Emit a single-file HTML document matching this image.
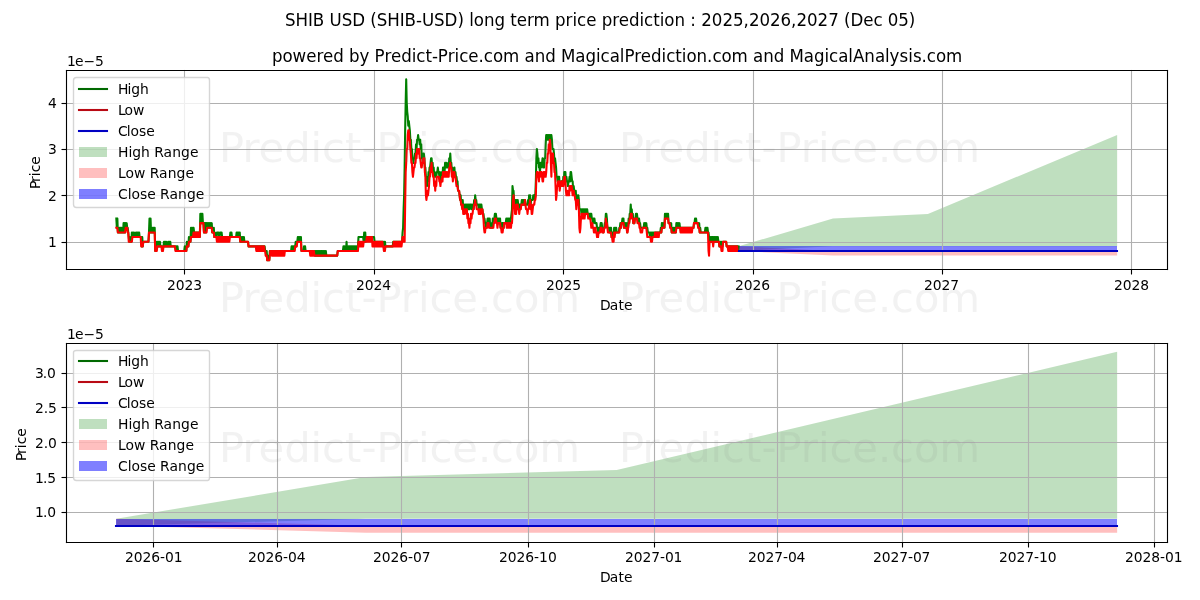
<!DOCTYPE html>
<html lang="en"><head><meta charset="utf-8"><title>SHIB USD (SHIB-USD) long term price prediction</title>
<style>
html,body{margin:0;padding:0;background:#fff}
body{width:1200px;height:600px;overflow:hidden}
svg{display:block;will-change:transform;fill:#000;stroke-linejoin:round;stroke-linecap:butt}
svg text{font-family:"DejaVu Sans","Liberation Sans",sans-serif;white-space:pre}
</style></head><body>
<svg width="1200" height="600" viewBox="0 0 1200 600">
<path d="M0 600L1200 600L1200 0L0 0Z" fill="#ffffff"/>
<path d="M66 269L1167 269L1167 70L66 70Z" fill="#ffffff"/>
<path d="M738.6 246.35L738.6 250.99L832.98 246.35L927.87 246.35L1117.15 246.35L1117.15 135.03L927.87 213.88L832.98 218.52L738.6 246.35Z" fill="#008000" fill-opacity="0.25"/>
<path d="M738.6 246.35L738.6 250.99L832.98 255.62L927.87 255.62L1117.15 255.62L1117.15 250.99L927.87 250.99L832.98 250.99L738.6 246.35Z" fill="#ff0000" fill-opacity="0.25"/>
<path d="M739 246L739 251L833 251L928 251L1117 251L1117 246L928 246L833 246L739 246Z" fill="#0000ff" fill-opacity="0.5"/>
<path d="M184.5 269.5L184.5 70.5" fill="none" stroke="#b0b0b0" stroke-width="1.11" stroke-linecap="square"/>
<path d="M184.5 269.5L184.5 274.5" fill="#000000" stroke="#000000" stroke-width="1.11"/>
<text x="167 175.75 184.5 193.25" y="290" font-size="13.89">2023</text>
<path d="M374.5 269.5L374.5 70.5" fill="none" stroke="#b0b0b0" stroke-width="1.11" stroke-linecap="square"/>
<path d="M374.5 269.5L374.5 274.5" fill="#000000" stroke="#000000" stroke-width="1.11"/>
<text x="356 364.75 373.5 382.25" y="290" font-size="13.89">2024</text>
<path d="M563.5 269.5L563.5 70.5" fill="none" stroke="#b0b0b0" stroke-width="1.11" stroke-linecap="square"/>
<path d="M563.5 269.5L563.5 274.5" fill="#000000" stroke="#000000" stroke-width="1.11"/>
<text x="546 554.75 563.5 572.25" y="290" font-size="13.89">2025</text>
<path d="M753.5 269.5L753.5 70.5" fill="none" stroke="#b0b0b0" stroke-width="1.11" stroke-linecap="square"/>
<path d="M753.5 269.5L753.5 274.5" fill="#000000" stroke="#000000" stroke-width="1.11"/>
<text x="735 743.75 752.5 761.25" y="290" font-size="13.89">2026</text>
<path d="M942.5 269.5L942.5 70.5" fill="none" stroke="#b0b0b0" stroke-width="1.11" stroke-linecap="square"/>
<path d="M942.5 269.5L942.5 274.5" fill="#000000" stroke="#000000" stroke-width="1.11"/>
<text x="924 932.75 941.5 950.25" y="290" font-size="13.89">2027</text>
<path d="M1131.5 269.5L1131.5 70.5" fill="none" stroke="#b0b0b0" stroke-width="1.11" stroke-linecap="square"/>
<path d="M1131.5 269.5L1131.5 274.5" fill="#000000" stroke="#000000" stroke-width="1.11"/>
<text x="1114 1122.75 1131.5 1140.25" y="290" font-size="13.89">2028</text>
<text x="600 609.75 618.38 623.88" y="310" font-size="13.89">Date</text>
<path d="M66.5 242.5L1167.5 242.5" fill="none" stroke="#b0b0b0" stroke-width="1.11" stroke-linecap="square"/>
<path d="M66.5 242.5L61.5 242.5" fill="#000000" stroke="#000000" stroke-width="1.11"/>
<text x="48" y="247" font-size="13.89">1</text>
<path d="M66.5 195.5L1167.5 195.5" fill="none" stroke="#b0b0b0" stroke-width="1.11" stroke-linecap="square"/>
<path d="M66.5 195.5L61.5 195.5" fill="#000000" stroke="#000000" stroke-width="1.11"/>
<text x="48" y="201" font-size="13.89">2</text>
<path d="M66.5 149.5L1167.5 149.5" fill="none" stroke="#b0b0b0" stroke-width="1.11" stroke-linecap="square"/>
<path d="M66.5 149.5L61.5 149.5" fill="#000000" stroke="#000000" stroke-width="1.11"/>
<text x="48" y="154" font-size="13.89">3</text>
<path d="M66.5 103.5L1167.5 103.5" fill="none" stroke="#b0b0b0" stroke-width="1.11" stroke-linecap="square"/>
<path d="M66.5 103.5L61.5 103.5" fill="#000000" stroke="#000000" stroke-width="1.11"/>
<text x="48" y="108" font-size="13.89">4</text>
<text x="39 46.12 51.88 55.75 63.38" y="188" font-size="13.89" transform="rotate(-90 40 188)">Price</text>
<text x="67 74.88 83.38 95" y="66" font-size="13.89">1e−5</text>
<path d="M116.32 218.52L116.84 227.8L117.36 218.52L117.87 232.43L118.39 227.8L118.91 232.43L119.43 227.8L119.95 232.43L120.47 227.8L120.99 232.43L121.5 227.8L122.02 232.43L122.54 227.8L123.06 232.43L123.58 223.16L124.1 232.43L124.62 223.16L125.13 232.43L125.65 223.16L126.17 227.8L126.69 223.16L127.21 227.8L127.73 227.8L128.25 232.43L128.76 237.07L129.28 241.71L129.8 237.07L130.32 241.71L130.84 237.07L131.36 241.71L131.88 232.43L132.39 237.07L132.91 232.43L133.43 237.07L133.95 232.43L134.47 237.07L134.99 237.07L135.51 237.07L136.02 232.43L136.54 237.07L137.06 232.43L137.58 237.07L138.1 232.43L138.62 237.07L139.14 232.43L139.65 237.07L140.17 237.07L140.69 237.07L141.21 237.07L141.73 246.35L142.25 237.07L142.77 246.35L143.28 241.71L143.8 241.71L144.32 241.71L144.84 241.71L145.36 241.71L145.88 241.71L146.4 241.71L146.91 241.71L147.43 241.71L147.95 241.71L148.47 241.71L148.99 232.43L149.51 218.52L150.03 232.43L150.54 218.52L151.06 232.43L151.58 227.8L152.1 232.43L152.62 227.8L153.14 232.43L153.66 227.8L154.17 232.43L154.69 227.8L155.21 250.99L155.73 241.71L156.25 250.99L156.77 241.71L157.29 246.35L157.8 241.71L158.32 246.35L158.84 241.71L159.36 246.35L159.88 241.71L160.4 246.35L160.92 246.35L161.43 246.35L161.95 246.35L162.47 250.99L162.99 246.35L163.51 246.35L164.03 241.71L164.55 246.35L165.06 241.71L165.58 246.35L166.1 241.71L166.62 246.35L167.14 246.35L167.66 246.35L168.18 241.71L168.69 246.35L169.21 241.71L169.73 246.35L170.25 241.71L170.77 246.35L171.29 246.35L171.81 246.35L172.32 246.35L172.84 246.35L173.36 246.35L173.88 246.35L174.4 246.35L174.92 246.35L175.44 246.35L175.95 250.99L176.47 246.35L176.99 250.99L177.51 246.35L178.03 250.99L178.55 250.99L179.07 250.99L179.58 250.99L180.1 250.99L180.62 250.99L181.14 250.99L181.66 250.99L182.18 250.99L182.7 250.99L183.21 250.99L183.73 250.99L184.25 250.99L184.77 246.35L185.29 250.99L185.81 246.35L186.33 250.99L186.84 241.71L187.36 246.35L187.88 241.71L188.4 246.35L188.92 237.07L189.44 241.71L189.96 237.07L190.47 241.71L190.99 227.8L191.51 237.07L192.03 227.8L192.55 237.07L193.07 227.8L193.59 227.8L194.1 232.43L194.62 232.43L195.14 232.43L195.66 232.43L196.18 232.43L196.7 232.43L197.22 232.43L197.73 232.43L198.25 232.43L198.77 232.43L199.29 232.43L199.81 237.07L200.33 213.88L200.85 223.16L201.36 213.88L201.88 223.16L202.4 213.88L202.92 223.16L203.44 223.16L203.96 232.43L204.48 223.16L204.99 232.43L205.51 223.16L206.03 232.43L206.55 223.16L207.07 227.8L207.59 223.16L208.11 227.8L208.62 223.16L209.14 227.8L209.66 223.16L210.18 227.8L210.7 223.16L211.22 227.8L211.74 223.16L212.25 232.43L212.77 227.8L213.29 232.43L213.81 227.8L214.33 237.07L214.85 232.43L215.37 237.07L215.88 237.07L216.4 237.07L216.92 232.43L217.44 232.43L217.96 232.43L218.48 232.43L218.99 237.07L219.51 237.07L220.03 232.43L220.55 232.43L221.07 232.43L221.59 232.43L222.11 237.07L222.62 237.07L223.14 237.07L223.66 237.07L224.18 237.07L224.7 237.07L225.22 237.07L225.74 237.07L226.25 237.07L226.77 237.07L227.29 237.07L227.81 237.07L228.33 237.07L228.85 237.07L229.37 237.07L229.88 237.07L230.4 232.43L230.92 237.07L231.44 232.43L231.96 237.07L232.48 237.07L233 237.07L233.51 237.07L234.03 237.07L234.55 237.07L235.07 237.07L235.59 237.07L236.11 237.07L236.63 232.43L237.14 237.07L237.66 232.43L238.18 237.07L238.7 232.43L239.22 237.07L239.74 232.43L240.26 241.71L240.77 237.07L241.29 241.71L241.81 237.07L242.33 241.71L242.85 237.07L243.37 241.71L243.89 237.07L244.4 241.71L244.92 241.71L245.44 241.71L245.96 241.71L246.48 241.71L247 241.71L247.52 241.71L248.03 241.71L248.55 246.35L249.07 246.35L249.59 246.35L250.11 246.35L250.63 246.35L251.15 246.35L251.66 246.35L252.18 246.35L252.7 246.35L253.22 246.35L253.74 246.35L254.26 246.35L254.78 246.35L255.29 246.35L255.81 246.35L256.33 246.35L256.85 246.35L257.37 246.35L257.89 246.35L258.41 246.35L258.92 246.35L259.44 246.35L259.96 246.35L260.48 246.35L261 246.35L261.52 246.35L262.04 246.35L262.55 246.35L263.07 246.35L263.59 246.35L264.11 246.35L264.63 246.35L265.15 250.99L265.67 250.99L266.18 255.62L266.7 250.99L267.22 260.26L267.74 255.62L268.26 260.26L268.78 255.62L269.3 260.26L269.81 250.99L270.33 250.99L270.85 250.99L271.37 250.99L271.89 250.99L272.41 250.99L272.93 250.99L273.44 250.99L273.96 250.99L274.48 250.99L275 250.99L275.52 250.99L276.04 250.99L276.56 250.99L277.07 250.99L277.59 250.99L278.11 250.99L278.63 250.99L279.15 250.99L279.67 250.99L280.19 250.99L280.7 250.99L281.22 250.99L281.74 250.99L282.26 250.99L282.78 250.99L283.3 250.99L283.82 250.99L284.33 250.99L284.85 250.99L285.37 250.99L285.89 250.99L286.41 250.99L286.93 250.99L287.45 250.99L287.96 250.99L288.48 250.99L289 250.99L289.52 250.99L290.04 250.99L290.56 250.99L291.08 250.99L291.59 246.35L292.11 250.99L292.63 246.35L293.15 250.99L293.67 246.35L294.19 250.99L294.71 246.35L295.22 246.35L295.74 241.71L296.26 246.35L296.78 241.71L297.3 241.71L297.82 237.07L298.34 241.71L298.85 237.07L299.37 241.71L299.89 237.07L300.41 241.71L300.93 237.07L301.45 250.99L301.97 250.99L302.48 250.99L303 250.99L303.52 250.99L304.04 246.35L304.56 250.99L305.08 246.35L305.6 250.99L306.11 250.99L306.63 250.99L307.15 250.99L307.67 250.99L308.19 250.99L308.71 250.99L309.23 250.99L309.74 250.99L310.26 250.99L310.78 250.99L311.3 250.99L311.82 250.99L312.34 250.99L312.86 250.99L313.37 250.99L313.89 250.99L314.41 250.99L314.93 255.62L315.45 250.99L315.97 255.62L316.49 250.99L317 255.62L317.52 250.99L318.04 255.62L318.56 250.99L319.08 255.62L319.6 250.99L320.12 255.62L320.63 250.99L321.15 255.62L321.67 250.99L322.19 255.62L322.71 250.99L323.23 255.62L323.75 250.99L324.26 255.62L324.78 250.99L325.3 255.62L325.82 250.99L326.34 255.62L326.86 255.62L327.37 255.62L327.89 255.62L328.41 255.62L328.93 255.62L329.45 255.62L329.97 255.62L330.49 255.62L331 255.62L331.52 255.62L332.04 255.62L332.56 255.62L333.08 255.62L333.6 255.62L334.12 255.62L334.63 255.62L335.15 255.62L335.67 255.62L336.19 255.62L336.71 255.62L337.23 255.62L337.75 250.99L338.26 250.99L338.78 250.99L339.3 250.99L339.82 250.99L340.34 250.99L340.86 250.99L341.38 250.99L341.89 250.99L342.41 250.99L342.93 250.99L343.45 246.35L343.97 250.99L344.49 246.35L345.01 250.99L345.52 246.35L346.04 250.99L346.56 241.71L347.08 250.99L347.6 246.35L348.12 250.99L348.64 246.35L349.15 250.99L349.67 246.35L350.19 250.99L350.71 246.35L351.23 250.99L351.75 246.35L352.27 250.99L352.78 246.35L353.3 250.99L353.82 246.35L354.34 250.99L354.86 246.35L355.38 250.99L355.9 246.35L356.41 250.99L356.93 246.35L357.45 250.99L357.97 246.35L358.49 237.07L359.01 237.07L359.53 237.07L360.04 237.07L360.56 237.07L361.08 237.07L361.6 237.07L362.12 237.07L362.64 237.07L363.16 237.07L363.67 241.71L364.19 232.43L364.71 241.71L365.23 232.43L365.75 241.71L366.27 237.07L366.79 237.07L367.3 237.07L367.82 237.07L368.34 237.07L368.86 237.07L369.38 237.07L369.9 237.07L370.42 237.07L370.93 237.07L371.45 237.07L371.97 237.07L372.49 237.07L373.01 237.07L373.53 237.07L374.05 237.07L374.56 241.71L375.08 241.71L375.6 241.71L376.12 241.71L376.64 241.71L377.16 241.71L377.68 241.71L378.19 241.71L378.71 241.71L379.23 241.71L379.75 241.71L380.27 241.71L380.79 241.71L381.31 241.71L381.82 241.71L382.34 241.71L382.86 241.71L383.38 246.35L383.9 241.71L384.42 250.99L384.94 241.71L385.45 246.35L385.97 246.35L386.49 246.35L387.01 246.35L387.53 246.35L388.05 246.35L388.57 246.35L389.08 246.35L389.6 246.35L390.12 246.35L390.64 246.35L391.16 246.35L391.68 246.35L392.2 246.35L392.71 246.35L393.23 241.71L393.75 241.71L394.27 241.71L394.79 241.71L395.31 241.71L395.83 241.71L396.34 241.71L396.86 241.71L397.38 241.71L397.9 241.71L398.42 241.71L398.94 241.71L399.46 241.71L399.97 241.71L400.49 241.71L401.01 241.71L401.53 241.71L402.05 241.71L402.57 232.43L403.09 227.8L403.6 209.24L404.12 195.33L404.64 167.5L405.16 130.4L405.68 102.57L406.2 79.38L406.72 102.57L407.23 111.84L407.75 116.48L408.27 125.76L408.79 121.12L409.31 125.76L409.83 130.4L410.35 139.67L410.86 139.67L411.38 148.95L411.9 148.95L412.42 158.22L412.94 158.22L413.46 162.86L413.98 158.22L414.49 158.22L415.01 153.59L415.53 153.59L416.05 144.31L416.57 148.95L417.09 139.67L417.61 139.67L418.12 135.03L418.64 139.67L419.16 139.67L419.68 144.31L420.2 139.67L420.72 148.95L421.24 144.31L421.75 158.22L422.27 158.22L422.79 162.86L423.31 153.59L423.83 153.59L424.35 158.22L424.87 167.5L425.38 167.5L425.9 176.78L426.42 176.78L426.94 186.05L427.46 181.41L427.98 181.41L428.5 172.14L429.01 176.78L429.53 167.5L430.05 167.5L430.57 162.86L431.09 158.22L431.61 158.22L432.12 167.5L432.64 162.86L433.16 172.14L433.68 167.5L434.2 176.78L434.72 172.14L435.24 176.78L435.75 176.78L436.27 176.78L436.79 172.14L437.31 172.14L437.83 167.5L438.35 172.14L438.87 172.14L439.38 176.78L439.9 172.14L440.42 181.41L440.94 176.78L441.46 181.41L441.98 172.14L442.5 176.78L443.01 167.5L443.53 167.5L444.05 167.5L444.57 172.14L445.09 162.86L445.61 167.5L446.13 162.86L446.64 167.5L447.16 167.5L447.68 167.5L448.2 162.86L448.72 167.5L449.24 158.22L449.76 162.86L450.27 153.59L450.79 162.86L451.31 162.86L451.83 172.14L452.35 167.5L452.87 172.14L453.39 172.14L453.9 172.14L454.42 167.5L454.94 176.78L455.46 172.14L455.98 176.78L456.5 176.78L457.02 181.41L457.53 181.41L458.05 190.69L458.57 190.69L459.09 190.69L459.61 195.33L460.13 199.97L460.65 195.33L461.16 204.6L461.68 199.97L462.2 204.6L462.72 199.97L463.24 209.24L463.76 204.6L464.28 209.24L464.79 204.6L465.31 209.24L465.83 204.6L466.35 209.24L466.87 204.6L467.39 209.24L467.91 204.6L468.42 209.24L468.94 204.6L469.46 209.24L469.98 204.6L470.5 204.6L471.02 204.6L471.54 209.24L472.05 204.6L472.57 209.24L473.09 204.6L473.61 209.24L474.13 199.97L474.65 204.6L475.17 195.33L475.68 199.97L476.2 199.97L476.72 204.6L477.24 204.6L477.76 204.6L478.28 204.6L478.8 209.24L479.31 204.6L479.83 209.24L480.35 204.6L480.87 209.24L481.39 204.6L481.91 209.24L482.43 209.24L482.94 213.88L483.46 213.88L483.98 218.52L484.5 218.52L485.02 223.16L485.54 223.16L486.06 227.8L486.57 223.16L487.09 223.16L487.61 218.52L488.13 218.52L488.65 218.52L489.17 223.16L489.69 218.52L490.2 227.8L490.72 223.16L491.24 227.8L491.76 223.16L492.28 227.8L492.8 218.52L493.32 223.16L493.83 218.52L494.35 218.52L494.87 213.88L495.39 213.88L495.91 213.88L496.43 218.52L496.95 218.52L497.46 223.16L497.98 218.52L498.5 223.16L499.02 218.52L499.54 223.16L500.06 218.52L500.58 227.8L501.09 223.16L501.61 227.8L502.13 223.16L502.65 223.16L503.17 223.16L503.69 227.8L504.21 223.16L504.72 223.16L505.24 223.16L505.76 223.16L506.28 218.52L506.8 223.16L507.32 218.52L507.84 223.16L508.35 218.52L508.87 223.16L509.39 218.52L509.91 223.16L510.43 218.52L510.95 218.52L511.47 213.88L511.98 209.24L512.5 186.05L513.02 190.69L513.54 190.69L514.06 199.97L514.58 199.97L515.1 204.6L515.61 199.97L516.13 204.6L516.65 199.97L517.17 204.6L517.69 199.97L518.21 204.6L518.73 204.6L519.24 209.24L519.76 204.6L520.28 209.24L520.8 204.6L521.32 204.6L521.84 199.97L522.36 204.6L522.87 199.97L523.39 204.6L523.91 199.97L524.43 204.6L524.95 199.97L525.47 204.6L525.99 204.6L526.5 204.6L527.02 204.6L527.54 204.6L528.06 199.97L528.58 204.6L529.1 195.33L529.62 199.97L530.13 195.33L530.65 204.6L531.17 199.97L531.69 199.97L532.21 199.97L532.73 199.97L533.25 195.33L533.76 195.33L534.28 195.33L534.8 199.97L535.32 195.33L535.84 181.41L536.36 158.22L536.87 148.95L537.39 153.59L537.91 162.86L538.43 158.22L538.95 167.5L539.47 167.5L539.99 172.14L540.5 162.86L541.02 167.5L541.54 162.86L542.06 162.86L542.58 158.22L543.1 167.5L543.62 162.86L544.13 167.5L544.65 158.22L545.17 158.22L545.69 144.31L546.21 135.03L546.73 135.03L547.25 139.67L547.76 135.03L548.28 139.67L548.8 135.03L549.32 139.67L549.84 135.03L550.36 139.67L550.88 135.03L551.39 135.03L551.91 139.67L552.43 148.95L552.95 148.95L553.47 148.95L553.99 153.59L554.51 162.86L555.02 158.22L555.54 162.86L556.06 167.5L556.58 176.78L557.1 176.78L557.62 181.41L558.14 176.78L558.65 176.78L559.17 176.78L559.69 186.05L560.21 181.41L560.73 186.05L561.25 181.41L561.77 181.41L562.28 181.41L562.8 186.05L563.32 176.78L563.84 181.41L564.36 172.14L564.88 172.14L565.4 172.14L565.91 181.41L566.43 176.78L566.95 181.41L567.47 181.41L567.99 186.05L568.51 181.41L569.03 181.41L569.54 176.78L570.06 181.41L570.58 172.14L571.1 172.14L571.62 176.78L572.14 181.41L572.66 181.41L573.17 190.69L573.69 186.05L574.21 190.69L574.73 190.69L575.25 195.33L575.77 190.69L576.29 199.97L576.8 195.33L577.32 199.97L577.84 195.33L578.36 195.33L578.88 199.97L579.4 209.24L579.92 209.24L580.43 209.24L580.95 209.24L581.47 213.88L581.99 209.24L582.51 213.88L583.03 209.24L583.55 213.88L584.06 209.24L584.58 213.88L585.1 209.24L585.62 213.88L586.14 209.24L586.66 213.88L587.18 209.24L587.69 213.88L588.21 213.88L588.73 213.88L589.25 213.88L589.77 218.52L590.29 213.88L590.81 213.88L591.32 213.88L591.84 218.52L592.36 218.52L592.88 223.16L593.4 218.52L593.92 218.52L594.44 218.52L594.95 223.16L595.47 223.16L595.99 223.16L596.51 223.16L597.03 227.8L597.55 227.8L598.07 232.43L598.58 227.8L599.1 232.43L599.62 227.8L600.14 227.8L600.66 223.16L601.18 223.16L601.7 223.16L602.21 227.8L602.73 227.8L603.25 232.43L603.77 227.8L604.29 227.8L604.81 223.16L605.33 223.16L605.84 213.88L606.36 213.88L606.88 218.52L607.4 227.8L607.92 227.8L608.44 227.8L608.96 227.8L609.47 232.43L609.99 227.8L610.51 232.43L611.03 227.8L611.55 237.07L612.07 232.43L612.59 232.43L613.1 232.43L613.62 237.07L614.14 227.8L614.66 232.43L615.18 227.8L615.7 232.43L616.22 227.8L616.73 232.43L617.25 232.43L617.77 232.43L618.29 232.43L618.81 232.43L619.33 227.8L619.85 227.8L620.36 223.16L620.88 227.8L621.4 223.16L621.92 223.16L622.44 218.52L622.96 223.16L623.48 218.52L623.99 227.8L624.51 223.16L625.03 227.8L625.55 223.16L626.07 227.8L626.59 223.16L627.11 232.43L627.62 227.8L628.14 227.8L628.66 218.52L629.18 223.16L629.7 213.88L630.22 213.88L630.74 204.6L631.25 213.88L631.77 209.24L632.29 218.52L632.81 213.88L633.33 223.16L633.85 218.52L634.37 223.16L634.88 218.52L635.4 218.52L635.92 213.88L636.44 213.88L636.96 213.88L637.48 218.52L638 218.52L638.51 223.16L639.03 218.52L639.55 223.16L640.07 223.16L640.59 227.8L641.11 227.8L641.62 227.8L642.14 227.8L642.66 227.8L643.18 227.8L643.7 227.8L644.22 223.16L644.74 227.8L645.25 223.16L645.77 227.8L646.29 223.16L646.81 227.8L647.33 227.8L647.85 232.43L648.37 232.43L648.88 232.43L649.4 232.43L649.92 237.07L650.44 232.43L650.96 237.07L651.48 232.43L652 237.07L652.51 232.43L653.03 237.07L653.55 232.43L654.07 237.07L654.59 232.43L655.11 232.43L655.63 232.43L656.14 232.43L656.66 232.43L657.18 232.43L657.7 232.43L658.22 232.43L658.74 232.43L659.26 232.43L659.77 232.43L660.29 232.43L660.81 227.8L661.33 232.43L661.85 223.16L662.37 227.8L662.89 223.16L663.4 227.8L663.92 223.16L664.44 227.8L664.96 213.88L665.48 218.52L666 213.88L666.52 218.52L667.03 213.88L667.55 218.52L668.07 213.88L668.59 223.16L669.11 223.16L669.63 223.16L670.15 223.16L670.66 227.8L671.18 223.16L671.7 232.43L672.22 227.8L672.74 232.43L673.26 227.8L673.78 232.43L674.29 227.8L674.81 232.43L675.33 227.8L675.85 232.43L676.37 223.16L676.89 227.8L677.41 223.16L677.92 227.8L678.44 223.16L678.96 227.8L679.48 223.16L680 227.8L680.52 227.8L681.04 227.8L681.55 227.8L682.07 227.8L682.59 227.8L683.11 227.8L683.63 227.8L684.15 227.8L684.67 227.8L685.18 227.8L685.7 227.8L686.22 227.8L686.74 227.8L687.26 227.8L687.78 227.8L688.3 227.8L688.81 227.8L689.33 227.8L689.85 227.8L690.37 227.8L690.89 227.8L691.41 227.8L691.93 227.8L692.44 227.8L692.96 227.8L693.48 227.8L694 223.16L694.52 223.16L695.04 218.52L695.56 223.16L696.07 218.52L696.59 223.16L697.11 223.16L697.63 223.16L698.15 223.16L698.67 227.8L699.19 223.16L699.7 232.43L700.22 227.8L700.74 232.43L701.26 232.43L701.78 232.43L702.3 232.43L702.82 232.43L703.33 232.43L703.85 232.43L704.37 232.43L704.89 232.43L705.41 227.8L705.93 232.43L706.45 227.8L706.96 232.43L707.48 227.8L708 232.43L708.52 232.43L709.04 237.07L709.56 237.07L710.08 241.71L710.59 237.07L711.11 241.71L711.63 237.07L712.15 241.71L712.67 237.07L713.19 241.71L713.71 237.07L714.22 241.71L714.74 237.07L715.26 241.71L715.78 237.07L716.3 241.71L716.82 237.07L717.34 241.71L717.85 237.07L718.37 241.71L718.89 241.71L719.41 246.35L719.93 241.71L720.45 246.35L720.97 241.71L721.48 246.35L722 241.71L722.52 246.35L723.04 241.71L723.56 241.71L724.08 241.71L724.6 241.71L725.11 241.71L725.63 241.71L726.15 241.71L726.67 246.35L727.19 246.35L727.71 246.35L728.23 246.35L728.74 246.35L729.26 246.35L729.78 246.35L730.3 246.35L730.82 246.35L731.34 246.35L731.86 246.35L732.37 246.35L732.89 246.35L733.41 246.35L733.93 246.35L734.45 246.35L734.97 246.35L735.49 246.35L736 246.35L736.52 246.35L737.04 246.35L737.56 246.35L738.08 250.99L738.6 246.35" fill="none" stroke="#008000" stroke-width="2.08" stroke-linecap="square"/>
<path d="M116.32 227.8L116.84 227.8L117.36 227.8L117.87 232.43L118.39 232.43L118.91 232.43L119.43 232.43L119.95 232.43L120.47 232.43L120.99 232.43L121.5 232.43L122.02 232.43L122.54 232.43L123.06 232.43L123.58 232.43L124.1 232.43L124.62 232.43L125.13 232.43L125.65 227.8L126.17 227.8L126.69 227.8L127.21 227.8L127.73 232.43L128.25 232.43L128.76 241.71L129.28 241.71L129.8 241.71L130.32 241.71L130.84 241.71L131.36 241.71L131.88 241.71L132.39 237.07L132.91 237.07L133.43 237.07L133.95 237.07L134.47 237.07L134.99 237.07L135.51 237.07L136.02 237.07L136.54 237.07L137.06 237.07L137.58 237.07L138.1 237.07L138.62 237.07L139.14 237.07L139.65 237.07L140.17 237.07L140.69 237.07L141.21 246.35L141.73 246.35L142.25 246.35L142.77 246.35L143.28 241.71L143.8 241.71L144.32 241.71L144.84 241.71L145.36 241.71L145.88 241.71L146.4 241.71L146.91 241.71L147.43 241.71L147.95 241.71L148.47 241.71L148.99 232.43L149.51 232.43L150.03 232.43L150.54 232.43L151.06 232.43L151.58 232.43L152.1 232.43L152.62 232.43L153.14 232.43L153.66 232.43L154.17 232.43L154.69 232.43L155.21 250.99L155.73 250.99L156.25 250.99L156.77 250.99L157.29 246.35L157.8 246.35L158.32 246.35L158.84 246.35L159.36 246.35L159.88 246.35L160.4 246.35L160.92 246.35L161.43 246.35L161.95 250.99L162.47 250.99L162.99 250.99L163.51 246.35L164.03 246.35L164.55 246.35L165.06 246.35L165.58 246.35L166.1 246.35L166.62 246.35L167.14 246.35L167.66 246.35L168.18 246.35L168.69 246.35L169.21 246.35L169.73 246.35L170.25 246.35L170.77 246.35L171.29 246.35L171.81 246.35L172.32 246.35L172.84 246.35L173.36 246.35L173.88 246.35L174.4 246.35L174.92 246.35L175.44 250.99L175.95 250.99L176.47 250.99L176.99 250.99L177.51 250.99L178.03 250.99L178.55 250.99L179.07 250.99L179.58 250.99L180.1 250.99L180.62 250.99L181.14 250.99L181.66 250.99L182.18 250.99L182.7 250.99L183.21 250.99L183.73 250.99L184.25 250.99L184.77 250.99L185.29 250.99L185.81 250.99L186.33 250.99L186.84 246.35L187.36 246.35L187.88 246.35L188.4 246.35L188.92 241.71L189.44 241.71L189.96 241.71L190.47 241.71L190.99 237.07L191.51 237.07L192.03 237.07L192.55 237.07L193.07 237.07L193.59 232.43L194.1 237.07L194.62 232.43L195.14 237.07L195.66 232.43L196.18 237.07L196.7 232.43L197.22 237.07L197.73 232.43L198.25 237.07L198.77 232.43L199.29 237.07L199.81 237.07L200.33 223.16L200.85 223.16L201.36 223.16L201.88 223.16L202.4 223.16L202.92 223.16L203.44 223.16L203.96 232.43L204.48 232.43L204.99 232.43L205.51 232.43L206.03 232.43L206.55 232.43L207.07 227.8L207.59 227.8L208.11 227.8L208.62 227.8L209.14 227.8L209.66 227.8L210.18 227.8L210.7 227.8L211.22 227.8L211.74 227.8L212.25 232.43L212.77 232.43L213.29 232.43L213.81 232.43L214.33 237.07L214.85 237.07L215.37 237.07L215.88 237.07L216.4 237.07L216.92 241.71L217.44 237.07L217.96 241.71L218.48 237.07L218.99 241.71L219.51 237.07L220.03 241.71L220.55 237.07L221.07 241.71L221.59 237.07L222.11 241.71L222.62 237.07L223.14 241.71L223.66 237.07L224.18 241.71L224.7 237.07L225.22 241.71L225.74 237.07L226.25 241.71L226.77 237.07L227.29 241.71L227.81 237.07L228.33 241.71L228.85 237.07L229.37 241.71L229.88 237.07L230.4 237.07L230.92 237.07L231.44 237.07L231.96 237.07L232.48 237.07L233 237.07L233.51 237.07L234.03 237.07L234.55 237.07L235.07 237.07L235.59 237.07L236.11 237.07L236.63 237.07L237.14 237.07L237.66 237.07L238.18 237.07L238.7 237.07L239.22 237.07L239.74 237.07L240.26 241.71L240.77 241.71L241.29 241.71L241.81 241.71L242.33 241.71L242.85 241.71L243.37 241.71L243.89 241.71L244.4 241.71L244.92 241.71L245.44 241.71L245.96 241.71L246.48 241.71L247 241.71L247.52 241.71L248.03 241.71L248.55 246.35L249.07 246.35L249.59 246.35L250.11 246.35L250.63 246.35L251.15 246.35L251.66 246.35L252.18 246.35L252.7 246.35L253.22 246.35L253.74 246.35L254.26 246.35L254.78 246.35L255.29 246.35L255.81 246.35L256.33 250.99L256.85 246.35L257.37 250.99L257.89 246.35L258.41 250.99L258.92 246.35L259.44 250.99L259.96 246.35L260.48 250.99L261 246.35L261.52 250.99L262.04 246.35L262.55 250.99L263.07 246.35L263.59 250.99L264.11 246.35L264.63 250.99L265.15 250.99L265.67 255.62L266.18 255.62L266.7 255.62L267.22 260.26L267.74 260.26L268.26 260.26L268.78 260.26L269.3 260.26L269.81 255.62L270.33 250.99L270.85 250.99L271.37 250.99L271.89 255.62L272.41 250.99L272.93 255.62L273.44 250.99L273.96 255.62L274.48 250.99L275 255.62L275.52 250.99L276.04 255.62L276.56 250.99L277.07 255.62L277.59 250.99L278.11 255.62L278.63 250.99L279.15 255.62L279.67 250.99L280.19 255.62L280.7 250.99L281.22 255.62L281.74 250.99L282.26 255.62L282.78 250.99L283.3 255.62L283.82 250.99L284.33 255.62L284.85 250.99L285.37 250.99L285.89 250.99L286.41 250.99L286.93 250.99L287.45 250.99L287.96 250.99L288.48 250.99L289 250.99L289.52 250.99L290.04 250.99L290.56 250.99L291.08 250.99L291.59 250.99L292.11 250.99L292.63 250.99L293.15 250.99L293.67 250.99L294.19 250.99L294.71 250.99L295.22 246.35L295.74 246.35L296.26 246.35L296.78 246.35L297.3 241.71L297.82 241.71L298.34 241.71L298.85 241.71L299.37 241.71L299.89 241.71L300.41 241.71L300.93 241.71L301.45 250.99L301.97 250.99L302.48 250.99L303 250.99L303.52 250.99L304.04 250.99L304.56 250.99L305.08 250.99L305.6 250.99L306.11 250.99L306.63 250.99L307.15 250.99L307.67 250.99L308.19 250.99L308.71 250.99L309.23 250.99L309.74 250.99L310.26 255.62L310.78 250.99L311.3 255.62L311.82 250.99L312.34 255.62L312.86 250.99L313.37 255.62L313.89 250.99L314.41 255.62L314.93 255.62L315.45 255.62L315.97 255.62L316.49 255.62L317 255.62L317.52 255.62L318.04 255.62L318.56 255.62L319.08 255.62L319.6 255.62L320.12 255.62L320.63 255.62L321.15 255.62L321.67 255.62L322.19 255.62L322.71 255.62L323.23 255.62L323.75 255.62L324.26 255.62L324.78 255.62L325.3 255.62L325.82 255.62L326.34 255.62L326.86 255.62L327.37 255.62L327.89 255.62L328.41 255.62L328.93 255.62L329.45 255.62L329.97 255.62L330.49 255.62L331 255.62L331.52 255.62L332.04 255.62L332.56 255.62L333.08 255.62L333.6 255.62L334.12 255.62L334.63 255.62L335.15 255.62L335.67 255.62L336.19 255.62L336.71 255.62L337.23 255.62L337.75 250.99L338.26 250.99L338.78 250.99L339.3 250.99L339.82 250.99L340.34 250.99L340.86 250.99L341.38 250.99L341.89 250.99L342.41 250.99L342.93 250.99L343.45 250.99L343.97 250.99L344.49 250.99L345.01 250.99L345.52 250.99L346.04 250.99L346.56 250.99L347.08 250.99L347.6 250.99L348.12 250.99L348.64 250.99L349.15 250.99L349.67 250.99L350.19 250.99L350.71 250.99L351.23 250.99L351.75 250.99L352.27 250.99L352.78 250.99L353.3 250.99L353.82 250.99L354.34 250.99L354.86 250.99L355.38 250.99L355.9 250.99L356.41 250.99L356.93 250.99L357.45 250.99L357.97 250.99L358.49 241.71L359.01 246.35L359.53 241.71L360.04 246.35L360.56 241.71L361.08 246.35L361.6 241.71L362.12 246.35L362.64 241.71L363.16 246.35L363.67 241.71L364.19 241.71L364.71 241.71L365.23 241.71L365.75 241.71L366.27 241.71L366.79 237.07L367.3 241.71L367.82 237.07L368.34 241.71L368.86 237.07L369.38 241.71L369.9 237.07L370.42 241.71L370.93 237.07L371.45 241.71L371.97 237.07L372.49 246.35L373.01 241.71L373.53 246.35L374.05 241.71L374.56 246.35L375.08 241.71L375.6 246.35L376.12 241.71L376.64 246.35L377.16 241.71L377.68 246.35L378.19 241.71L378.71 246.35L379.23 241.71L379.75 246.35L380.27 241.71L380.79 246.35L381.31 241.71L381.82 246.35L382.34 241.71L382.86 246.35L383.38 246.35L383.9 250.99L384.42 250.99L384.94 250.99L385.45 246.35L385.97 246.35L386.49 246.35L387.01 246.35L387.53 246.35L388.05 246.35L388.57 246.35L389.08 246.35L389.6 246.35L390.12 246.35L390.64 246.35L391.16 246.35L391.68 246.35L392.2 246.35L392.71 246.35L393.23 246.35L393.75 241.71L394.27 246.35L394.79 241.71L395.31 246.35L395.83 241.71L396.34 246.35L396.86 241.71L397.38 246.35L397.9 241.71L398.42 246.35L398.94 241.71L399.46 246.35L399.97 241.71L400.49 246.35L401.01 241.71L401.53 246.35L402.05 241.71L402.57 237.07L403.09 241.71L403.6 237.07L404.12 241.71L404.64 241.71L405.16 204.6L405.68 172.14L406.2 162.86L406.72 148.95L407.23 148.95L407.75 135.03L408.27 130.4L408.79 130.4L409.31 139.67L409.83 139.67L410.35 148.95L410.86 153.59L411.38 162.86L411.9 162.86L412.42 172.14L412.94 176.78L413.46 172.14L413.98 167.5L414.49 167.5L415.01 162.86L415.53 162.86L416.05 153.59L416.57 158.22L417.09 148.95L417.61 153.59L418.12 148.95L418.64 153.59L419.16 148.95L419.68 158.22L420.2 158.22L420.72 162.86L421.24 167.5L421.75 167.5L422.27 162.86L422.79 162.86L423.31 158.22L423.83 158.22L424.35 158.22L424.87 172.14L425.38 176.78L425.9 195.33L426.42 199.97L426.94 195.33L427.46 190.69L427.98 195.33L428.5 190.69L429.01 186.05L429.53 176.78L430.05 176.78L430.57 167.5L431.09 167.5L431.61 162.86L432.12 172.14L432.64 172.14L433.16 176.78L433.68 176.78L434.2 186.05L434.72 181.41L435.24 190.69L435.75 181.41L436.27 186.05L436.79 176.78L437.31 176.78L437.83 176.78L438.35 176.78L438.87 176.78L439.38 181.41L439.9 181.41L440.42 186.05L440.94 181.41L441.46 181.41L441.98 176.78L442.5 181.41L443.01 172.14L443.53 176.78L444.05 172.14L444.57 176.78L445.09 172.14L445.61 176.78L446.13 172.14L446.64 176.78L447.16 172.14L447.68 176.78L448.2 172.14L448.72 176.78L449.24 167.5L449.76 167.5L450.27 162.86L450.79 167.5L451.31 167.5L451.83 176.78L452.35 172.14L452.87 181.41L453.39 176.78L453.9 172.14L454.42 172.14L454.94 176.78L455.46 176.78L455.98 181.41L456.5 186.05L457.02 186.05L457.53 186.05L458.05 190.69L458.57 190.69L459.09 190.69L459.61 195.33L460.13 199.97L460.65 199.97L461.16 204.6L461.68 204.6L462.2 209.24L462.72 204.6L463.24 213.88L463.76 209.24L464.28 213.88L464.79 209.24L465.31 209.24L465.83 209.24L466.35 213.88L466.87 209.24L467.39 218.52L467.91 213.88L468.42 223.16L468.94 223.16L469.46 227.8L469.98 218.52L470.5 223.16L471.02 213.88L471.54 218.52L472.05 213.88L472.57 213.88L473.09 209.24L473.61 209.24L474.13 204.6L474.65 204.6L475.17 199.97L475.68 204.6L476.2 204.6L476.72 209.24L477.24 209.24L477.76 209.24L478.28 209.24L478.8 213.88L479.31 209.24L479.83 213.88L480.35 209.24L480.87 213.88L481.39 209.24L481.91 209.24L482.43 209.24L482.94 213.88L483.46 218.52L483.98 227.8L484.5 232.43L485.02 232.43L485.54 227.8L486.06 227.8L486.57 227.8L487.09 227.8L487.61 223.16L488.13 223.16L488.65 223.16L489.17 227.8L489.69 227.8L490.2 227.8L490.72 227.8L491.24 227.8L491.76 227.8L492.28 227.8L492.8 227.8L493.32 227.8L493.83 223.16L494.35 223.16L494.87 218.52L495.39 218.52L495.91 218.52L496.43 223.16L496.95 223.16L497.46 227.8L497.98 223.16L498.5 223.16L499.02 223.16L499.54 223.16L500.06 223.16L500.58 227.8L501.09 227.8L501.61 232.43L502.13 232.43L502.65 232.43L503.17 227.8L503.69 227.8L504.21 223.16L504.72 223.16L505.24 223.16L505.76 223.16L506.28 223.16L506.8 227.8L507.32 223.16L507.84 227.8L508.35 223.16L508.87 227.8L509.39 223.16L509.91 227.8L510.43 223.16L510.95 227.8L511.47 223.16L511.98 223.16L512.5 213.88L513.02 199.97L513.54 195.33L514.06 204.6L514.58 204.6L515.1 213.88L515.61 209.24L516.13 213.88L516.65 204.6L517.17 209.24L517.69 204.6L518.21 209.24L518.73 209.24L519.24 213.88L519.76 209.24L520.28 209.24L520.8 209.24L521.32 204.6L521.84 204.6L522.36 204.6L522.87 204.6L523.39 204.6L523.91 204.6L524.43 204.6L524.95 199.97L525.47 204.6L525.99 209.24L526.5 209.24L527.02 209.24L527.54 213.88L528.06 209.24L528.58 209.24L529.1 204.6L529.62 204.6L530.13 199.97L530.65 209.24L531.17 204.6L531.69 213.88L532.21 213.88L532.73 209.24L533.25 204.6L533.76 204.6L534.28 204.6L534.8 199.97L535.32 199.97L535.84 195.33L536.36 176.78L536.87 172.14L537.39 172.14L537.91 176.78L538.43 176.78L538.95 181.41L539.47 172.14L539.99 176.78L540.5 172.14L541.02 172.14L541.54 172.14L542.06 176.78L542.58 181.41L543.1 181.41L543.62 172.14L544.13 176.78L544.65 172.14L545.17 172.14L545.69 176.78L546.21 172.14L546.73 162.86L547.25 162.86L547.76 153.59L548.28 153.59L548.8 144.31L549.32 148.95L549.84 139.67L550.36 144.31L550.88 162.86L551.39 176.78L551.91 153.59L552.43 153.59L552.95 153.59L553.47 162.86L553.99 162.86L554.51 172.14L555.02 172.14L555.54 186.05L556.06 199.97L556.58 195.33L557.1 186.05L557.62 186.05L558.14 181.41L558.65 181.41L559.17 181.41L559.69 190.69L560.21 186.05L560.73 186.05L561.25 181.41L561.77 181.41L562.28 181.41L562.8 186.05L563.32 186.05L563.84 181.41L564.36 176.78L564.88 176.78L565.4 181.41L565.91 190.69L566.43 195.33L566.95 195.33L567.47 190.69L567.99 195.33L568.51 195.33L569.03 195.33L569.54 186.05L570.06 190.69L570.58 186.05L571.1 186.05L571.62 186.05L572.14 190.69L572.66 195.33L573.17 195.33L573.69 190.69L574.21 195.33L574.73 195.33L575.25 199.97L575.77 199.97L576.29 209.24L576.8 199.97L577.32 204.6L577.84 199.97L578.36 199.97L578.88 209.24L579.4 227.8L579.92 232.43L580.43 227.8L580.95 218.52L581.47 213.88L581.99 213.88L582.51 218.52L583.03 213.88L583.55 218.52L584.06 213.88L584.58 218.52L585.1 213.88L585.62 213.88L586.14 213.88L586.66 213.88L587.18 213.88L587.69 213.88L588.21 218.52L588.73 218.52L589.25 218.52L589.77 218.52L590.29 218.52L590.81 223.16L591.32 227.8L591.84 227.8L592.36 223.16L592.88 227.8L593.4 227.8L593.92 232.43L594.44 227.8L594.95 232.43L595.47 227.8L595.99 232.43L596.51 232.43L597.03 237.07L597.55 232.43L598.07 237.07L598.58 232.43L599.1 232.43L599.62 232.43L600.14 232.43L600.66 227.8L601.18 227.8L601.7 227.8L602.21 232.43L602.73 232.43L603.25 232.43L603.77 232.43L604.29 227.8L604.81 227.8L605.33 227.8L605.84 218.52L606.36 223.16L606.88 223.16L607.4 227.8L607.92 232.43L608.44 232.43L608.96 232.43L609.47 232.43L609.99 232.43L610.51 232.43L611.03 232.43L611.55 237.07L612.07 237.07L612.59 241.71L613.1 241.71L613.62 241.71L614.14 232.43L614.66 237.07L615.18 232.43L615.7 232.43L616.22 232.43L616.73 232.43L617.25 232.43L617.77 232.43L618.29 232.43L618.81 232.43L619.33 232.43L619.85 227.8L620.36 227.8L620.88 227.8L621.4 223.16L621.92 223.16L622.44 223.16L622.96 223.16L623.48 223.16L623.99 227.8L624.51 227.8L625.03 227.8L625.55 227.8L626.07 227.8L626.59 227.8L627.11 232.43L627.62 232.43L628.14 227.8L628.66 223.16L629.18 223.16L629.7 218.52L630.22 218.52L630.74 213.88L631.25 213.88L631.77 213.88L632.29 218.52L632.81 218.52L633.33 223.16L633.85 223.16L634.37 223.16L634.88 218.52L635.4 218.52L635.92 218.52L636.44 218.52L636.96 218.52L637.48 223.16L638 223.16L638.51 223.16L639.03 223.16L639.55 227.8L640.07 227.8L640.59 232.43L641.11 232.43L641.62 232.43L642.14 232.43L642.66 227.8L643.18 227.8L643.7 227.8L644.22 227.8L644.74 227.8L645.25 227.8L645.77 227.8L646.29 227.8L646.81 232.43L647.33 237.07L647.85 237.07L648.37 237.07L648.88 237.07L649.4 237.07L649.92 237.07L650.44 237.07L650.96 241.71L651.48 241.71L652 241.71L652.51 237.07L653.03 237.07L653.55 237.07L654.07 237.07L654.59 237.07L655.11 232.43L655.63 237.07L656.14 232.43L656.66 237.07L657.18 232.43L657.7 237.07L658.22 232.43L658.74 237.07L659.26 232.43L659.77 232.43L660.29 232.43L660.81 232.43L661.33 232.43L661.85 227.8L662.37 227.8L662.89 227.8L663.4 227.8L663.92 227.8L664.44 227.8L664.96 218.52L665.48 218.52L666 218.52L666.52 218.52L667.03 218.52L667.55 218.52L668.07 218.52L668.59 223.16L669.11 223.16L669.63 223.16L670.15 227.8L670.66 227.8L671.18 227.8L671.7 232.43L672.22 232.43L672.74 232.43L673.26 232.43L673.78 232.43L674.29 232.43L674.81 232.43L675.33 232.43L675.85 232.43L676.37 227.8L676.89 227.8L677.41 227.8L677.92 227.8L678.44 227.8L678.96 227.8L679.48 227.8L680 227.8L680.52 232.43L681.04 227.8L681.55 232.43L682.07 227.8L682.59 232.43L683.11 227.8L683.63 232.43L684.15 227.8L684.67 232.43L685.18 227.8L685.7 232.43L686.22 227.8L686.74 232.43L687.26 227.8L687.78 232.43L688.3 227.8L688.81 232.43L689.33 227.8L689.85 232.43L690.37 227.8L690.89 232.43L691.41 227.8L691.93 232.43L692.44 227.8L692.96 227.8L693.48 227.8L694 223.16L694.52 223.16L695.04 223.16L695.56 223.16L696.07 223.16L696.59 223.16L697.11 223.16L697.63 223.16L698.15 227.8L698.67 227.8L699.19 227.8L699.7 232.43L700.22 232.43L700.74 232.43L701.26 232.43L701.78 232.43L702.3 232.43L702.82 232.43L703.33 232.43L703.85 232.43L704.37 232.43L704.89 232.43L705.41 232.43L705.93 232.43L706.45 232.43L706.96 232.43L707.48 232.43L708 232.43L708.52 250.99L709.04 255.62L709.56 241.71L710.08 241.71L710.59 241.71L711.11 241.71L711.63 241.71L712.15 241.71L712.67 241.71L713.19 246.35L713.71 241.71L714.22 241.71L714.74 241.71L715.26 241.71L715.78 241.71L716.3 241.71L716.82 241.71L717.34 241.71L717.85 241.71L718.37 241.71L718.89 241.71L719.41 246.35L719.93 246.35L720.45 246.35L720.97 246.35L721.48 250.99L722 246.35L722.52 250.99L723.04 241.71L723.56 241.71L724.08 241.71L724.6 241.71L725.11 241.71L725.63 241.71L726.15 241.71L726.67 246.35L727.19 246.35L727.71 246.35L728.23 250.99L728.74 246.35L729.26 250.99L729.78 246.35L730.3 250.99L730.82 246.35L731.34 250.99L731.86 246.35L732.37 250.99L732.89 246.35L733.41 250.99L733.93 246.35L734.45 250.99L734.97 246.35L735.49 250.99L736 246.35L736.52 250.99L737.04 246.35L737.56 250.99L738.08 250.99L738.6 250.99" fill="none" stroke="#ff0000" stroke-width="2.08" stroke-linecap="square"/>
<path d="M739 251L833 251L928 251L1117 251" fill="none" stroke="#0000c3" stroke-width="2.08" stroke-linecap="square"/>
<path d="M66.5 269.5L66.5 70.5" fill="none" stroke="#000000" stroke-width="1.11" stroke-linecap="square" stroke-linejoin="miter"/>
<path d="M1167.5 269.5L1167.5 70.5" fill="none" stroke="#000000" stroke-width="1.11" stroke-linecap="square" stroke-linejoin="miter"/>
<path d="M66.5 269.5L1167.5 269.5" fill="none" stroke="#000000" stroke-width="1.11" stroke-linecap="square" stroke-linejoin="miter"/>
<path d="M66.5 70.5L1167.5 70.5" fill="none" stroke="#000000" stroke-width="1.11" stroke-linecap="square" stroke-linejoin="miter"/>
<text x="272 282.5 292.62 306.25 316.5 323 333.25 343.75 349 359.5 369.38 374.62 384.5 391 401.25 411.75 416.38 425.5 432 437.88 447.75 454.62 459.25 468.38 478.62 483.88 493 503.12 519.38 524.62 534.75 545.25 555.75 561 575.38 585.5 596 600.62 609.75 619.88 624.5 634.38 640.88 651.12 661.62 666.25 675.38 681.88 686.5 696.62 707.12 712.38 721.5 731.62 747.88 753.12 763.25 773.75 784.25 789.5 803.88 814 824.5 829.12 838.25 848.38 853 864.38 874.88 885 889.62 899.5 908.25 912.88 921.62 926.88 936 946.12" y="62" font-size="16.67" transform="translate(0 62) scale(1 1.080) translate(0 -62)">powered by Predict-Price.com and MagicalPrediction.com and MagicalAnalysis.com</text>
<path d="M76.5 207.5L207.5 207.5Q209.5 207.5 209.5 204.5L209.5 80.5Q209.5 77.5 207.5 77.5L76.5 77.5Q73.5 77.5 73.5 80.5L73.5 204.5Q73.5 207.5 76.5 207.5Z" fill="#ffffff" fill-opacity="0.8" stroke="#cccccc" stroke-width="1.39" stroke-opacity="0.8" stroke-linejoin="miter"/>
<path d="M79 89L93 89L107 89" fill="none" stroke="#006900" stroke-width="2.08" stroke-linecap="square"/>
<text x="118 127.38 131.25 140.12" y="94" font-size="13.89">High</text>
<path d="M79 110L93 110L107 110" fill="none" stroke="#b90a14" stroke-width="2.08" stroke-linecap="square"/>
<text x="118 124.5 133" y="115" font-size="13.89">Low</text>
<path d="M79 131L93 131L107 131" fill="none" stroke="#0000c3" stroke-width="2.08" stroke-linecap="square"/>
<text x="118 126.75 130.62 139.12 146.25" y="136" font-size="13.89">Close</text>
<path d="M79 157L107 157L107 147L79 147Z" fill="#008000" fill-opacity="0.25"/>
<text x="118 128.38 132.25 141.12 149.88 154.25 163.62 172.25 181 189.88" y="157" font-size="13.89">High Range</text>
<path d="M79 178L107 178L107 168L79 168Z" fill="#ff0000" fill-opacity="0.25"/>
<text x="118 125.5 134 145.38 149.75 159.12 167.75 176.5 185.38" y="178" font-size="13.89">Low Range</text>
<path d="M79 199L107 199L107 189L79 189Z" fill="#0000ff" fill-opacity="0.5"/>
<text x="118 127.75 131.62 140.12 147.25 155.75 160.12 169.5 178.12 186.88 195.75" y="199" font-size="13.89">Close Range</text>
<path d="M66 542L1167 542L1167 343L66 343Z" fill="#ffffff"/>
<path d="M116.32 518.76L116.32 525.72L365.84 518.76L616.73 518.76L1117.15 518.76L1117.15 351.79L616.73 470.06L365.84 477.02L116.32 518.76Z" fill="#008000" fill-opacity="0.25"/>
<path d="M116.32 518.76L116.32 525.72L365.84 532.68L616.73 532.68L1117.15 532.68L1117.15 525.72L616.73 525.72L365.84 525.72L116.32 518.76Z" fill="#ff0000" fill-opacity="0.25"/>
<path d="M116 519L116 526L366 526L617 526L1117 526L1117 519L617 519L366 519L116 519Z" fill="#0000ff" fill-opacity="0.5"/>
<path d="M153.5 542.5L153.5 343.5" fill="none" stroke="#b0b0b0" stroke-width="1.11" stroke-linecap="square"/>
<path d="M153.5 542.5L153.5 547.5" fill="#000000" stroke="#000000" stroke-width="1.11"/>
<text x="125 133.75 142.5 151.25 160.12 165 173.75" y="562" font-size="13.89">2026-01</text>
<path d="M277.5 542.5L277.5 343.5" fill="none" stroke="#b0b0b0" stroke-width="1.11" stroke-linecap="square"/>
<path d="M277.5 542.5L277.5 547.5" fill="#000000" stroke="#000000" stroke-width="1.11"/>
<text x="248 256.75 265.5 274.25 283.12 288 296.75" y="562" font-size="13.89">2026-04</text>
<path d="M401.5 542.5L401.5 343.5" fill="none" stroke="#b0b0b0" stroke-width="1.11" stroke-linecap="square"/>
<path d="M401.5 542.5L401.5 547.5" fill="#000000" stroke="#000000" stroke-width="1.11"/>
<text x="373 381.75 390.5 399.25 408.12 413 421.75" y="562" font-size="13.89">2026-07</text>
<path d="M528.5 542.5L528.5 343.5" fill="none" stroke="#b0b0b0" stroke-width="1.11" stroke-linecap="square"/>
<path d="M528.5 542.5L528.5 547.5" fill="#000000" stroke="#000000" stroke-width="1.11"/>
<text x="499 507.75 516.5 525.25 534.12 539 547.88" y="562" font-size="13.89">2026-10</text>
<path d="M654.5 542.5L654.5 343.5" fill="none" stroke="#b0b0b0" stroke-width="1.11" stroke-linecap="square"/>
<path d="M654.5 542.5L654.5 547.5" fill="#000000" stroke="#000000" stroke-width="1.11"/>
<text x="625 633.75 642.5 651.25 660 664.88 673.62" y="562" font-size="13.89">2027-01</text>
<path d="M777.5 542.5L777.5 343.5" fill="none" stroke="#b0b0b0" stroke-width="1.11" stroke-linecap="square"/>
<path d="M777.5 542.5L777.5 547.5" fill="#000000" stroke="#000000" stroke-width="1.11"/>
<text x="748 756.75 765.5 774.25 783 787.88 796.62" y="562" font-size="13.89">2027-04</text>
<path d="M902.5 542.5L902.5 343.5" fill="none" stroke="#b0b0b0" stroke-width="1.11" stroke-linecap="square"/>
<path d="M902.5 542.5L902.5 547.5" fill="#000000" stroke="#000000" stroke-width="1.11"/>
<text x="873 881.75 890.5 899.25 908 912.88 921.62" y="562" font-size="13.89">2027-07</text>
<path d="M1028.5 542.5L1028.5 343.5" fill="none" stroke="#b0b0b0" stroke-width="1.11" stroke-linecap="square"/>
<path d="M1028.5 542.5L1028.5 547.5" fill="#000000" stroke="#000000" stroke-width="1.11"/>
<text x="999 1007.75 1016.5 1025.25 1034 1038.88 1047.75" y="562" font-size="13.89">2027-10</text>
<path d="M1154.5 542.5L1154.5 343.5" fill="none" stroke="#b0b0b0" stroke-width="1.11" stroke-linecap="square"/>
<path d="M1154.5 542.5L1154.5 547.5" fill="#000000" stroke="#000000" stroke-width="1.11"/>
<text x="1125 1133.75 1142.5 1151.25 1160.12 1165 1173.75" y="562" font-size="13.89">2028-01</text>
<text x="600 609.75 618.38 623.88" y="582" font-size="13.89">Date</text>
<path d="M66.5 512.5L1167.5 512.5" fill="none" stroke="#b0b0b0" stroke-width="1.11" stroke-linecap="square"/>
<path d="M66.5 512.5L61.5 512.5" fill="#000000" stroke="#000000" stroke-width="1.11"/>
<text x="35 42.88 47.25" y="517" font-size="13.89">1.0</text>
<path d="M66.5 477.5L1167.5 477.5" fill="none" stroke="#b0b0b0" stroke-width="1.11" stroke-linecap="square"/>
<path d="M66.5 477.5L61.5 477.5" fill="#000000" stroke="#000000" stroke-width="1.11"/>
<text x="35 42.88 47.25" y="483" font-size="13.89">1.5</text>
<path d="M66.5 442.5L1167.5 442.5" fill="none" stroke="#b0b0b0" stroke-width="1.11" stroke-linecap="square"/>
<path d="M66.5 442.5L61.5 442.5" fill="#000000" stroke="#000000" stroke-width="1.11"/>
<text x="35 43.75 48.12" y="448" font-size="13.89">2.0</text>
<path d="M66.5 407.5L1167.5 407.5" fill="none" stroke="#b0b0b0" stroke-width="1.11" stroke-linecap="square"/>
<path d="M66.5 407.5L61.5 407.5" fill="#000000" stroke="#000000" stroke-width="1.11"/>
<text x="35 43.75 48.12" y="413" font-size="13.89">2.5</text>
<path d="M66.5 373.5L1167.5 373.5" fill="none" stroke="#b0b0b0" stroke-width="1.11" stroke-linecap="square"/>
<path d="M66.5 373.5L61.5 373.5" fill="#000000" stroke="#000000" stroke-width="1.11"/>
<text x="35 42.75 47.12" y="378" font-size="13.89">3.0</text>
<text x="25 32.12 37.88 41.75 49.38" y="460" font-size="13.89" transform="rotate(-90 26 460)">Price</text>
<text x="67 74.88 83.38 95" y="339" font-size="13.89">1e−5</text>
<path d="M116 526L366 526L617 526L1117 526" fill="none" stroke="#0000c3" stroke-width="2.08" stroke-linecap="square"/>
<path d="M66.5 542.5L66.5 343.5" fill="none" stroke="#000000" stroke-width="1.11" stroke-linecap="square" stroke-linejoin="miter"/>
<path d="M1167.5 542.5L1167.5 343.5" fill="none" stroke="#000000" stroke-width="1.11" stroke-linecap="square" stroke-linejoin="miter"/>
<path d="M66.5 542.5L1167.5 542.5" fill="none" stroke="#000000" stroke-width="1.11" stroke-linecap="square" stroke-linejoin="miter"/>
<path d="M66.5 343.5L1167.5 343.5" fill="none" stroke="#000000" stroke-width="1.11" stroke-linecap="square" stroke-linejoin="miter"/>
<path d="M76.5 480.5L207.5 480.5Q209.5 480.5 209.5 477.5L209.5 352.5Q209.5 350.5 207.5 350.5L76.5 350.5Q73.5 350.5 73.5 352.5L73.5 477.5Q73.5 480.5 76.5 480.5Z" fill="#ffffff" fill-opacity="0.8" stroke="#cccccc" stroke-width="1.39" stroke-opacity="0.8" stroke-linejoin="miter"/>
<path d="M79 361L93 361L107 361" fill="none" stroke="#006900" stroke-width="2.08" stroke-linecap="square"/>
<text x="118 127.38 131.25 140.12" y="366" font-size="13.89">High</text>
<path d="M79 382L93 382L107 382" fill="none" stroke="#b90a14" stroke-width="2.08" stroke-linecap="square"/>
<text x="118 124.5 133" y="387" font-size="13.89">Low</text>
<path d="M79 403L93 403L107 403" fill="none" stroke="#0000c3" stroke-width="2.08" stroke-linecap="square"/>
<text x="118 126.75 130.62 139.12 146.25" y="408" font-size="13.89">Close</text>
<path d="M79 429L107 429L107 419L79 419Z" fill="#008000" fill-opacity="0.25"/>
<text x="118 128.38 132.25 141.12 149.88 154.25 163.62 172.25 181 189.88" y="429" font-size="13.89">High Range</text>
<path d="M79 450L107 450L107 440L79 440Z" fill="#ff0000" fill-opacity="0.25"/>
<text x="118 125.5 134 145.38 149.75 159.12 167.75 176.5 185.38" y="450" font-size="13.89">Low Range</text>
<path d="M79 471L107 471L107 461L79 461Z" fill="#0000ff" fill-opacity="0.5"/>
<text x="118 127.75 131.62 140.12 147.25 155.75 160.12 169.5 178.12 186.88 195.75" y="471" font-size="13.89">Close Range</text>
<text x="285 295.5 308 312.88 324.25 329.5 341.75 352.25 365.12 370.38 376.75 387.25 399.75 404.62 416 421.88 434.12 444.62 457.5 464 469.25 473.88 484 494.5 505 510.25 516.75 527 533.62 549.88 555.12 565.62 572.5 577.12 586.25 596.5 601.75 612.25 618.75 629 639.5 644.12 653.25 659.75 664.38 674.5 685 690.25 696 701.25 711.88 722.38 733 743.5 748.88 759.5 770 780.62 791.12 796.5 807.12 817.62 828.25 838.75 844 850.38 863.25 873.5 882.62 887.88 898.38 908.88" y="26" font-size="16.67" transform="translate(0 26) scale(1 1.080) translate(0 -26)">SHIB USD (SHIB-USD) long term price prediction : 2025,2026,2027 (Dec 05)</text>
<text x="219 242.38 258.62 284.25 310.62 322.12 345 361.38 376.38 400.75 417.88 429.38 452.25 477.88 491.12 514 539.38" y="462" font-size="41.67" fill="#808080" fill-opacity="0.1">Predict-Price.com</text>
<text x="219 242.38 258.62 284.25 310.62 322.12 345 361.38 376.38 400.75 417.88 429.38 452.25 477.88 491.12 514 539.38" y="312" font-size="41.67" fill="#808080" fill-opacity="0.1">Predict-Price.com</text>
<text x="219 242.38 258.62 284.25 310.62 322.12 345 361.38 376.38 400.75 417.88 429.38 452.25 477.88 491.12 514 539.38" y="162" font-size="41.67" fill="#808080" fill-opacity="0.1">Predict-Price.com</text>
<text x="619 642.38 658.62 684.25 710.62 722.12 745 761.38 776.38 800.75 817.88 829.38 852.25 877.88 891.12 914 939.38" y="462" font-size="41.67" fill="#808080" fill-opacity="0.1">Predict-Price.com</text>
<text x="619 642.38 658.62 684.25 710.62 722.12 745 761.38 776.38 800.75 817.88 829.38 852.25 877.88 891.12 914 939.38" y="312" font-size="41.67" fill="#808080" fill-opacity="0.1">Predict-Price.com</text>
<text x="619 642.38 658.62 684.25 710.62 722.12 745 761.38 776.38 800.75 817.88 829.38 852.25 877.88 891.12 914 939.38" y="162" font-size="41.67" fill="#808080" fill-opacity="0.1">Predict-Price.com</text>
</svg>
</body></html>
